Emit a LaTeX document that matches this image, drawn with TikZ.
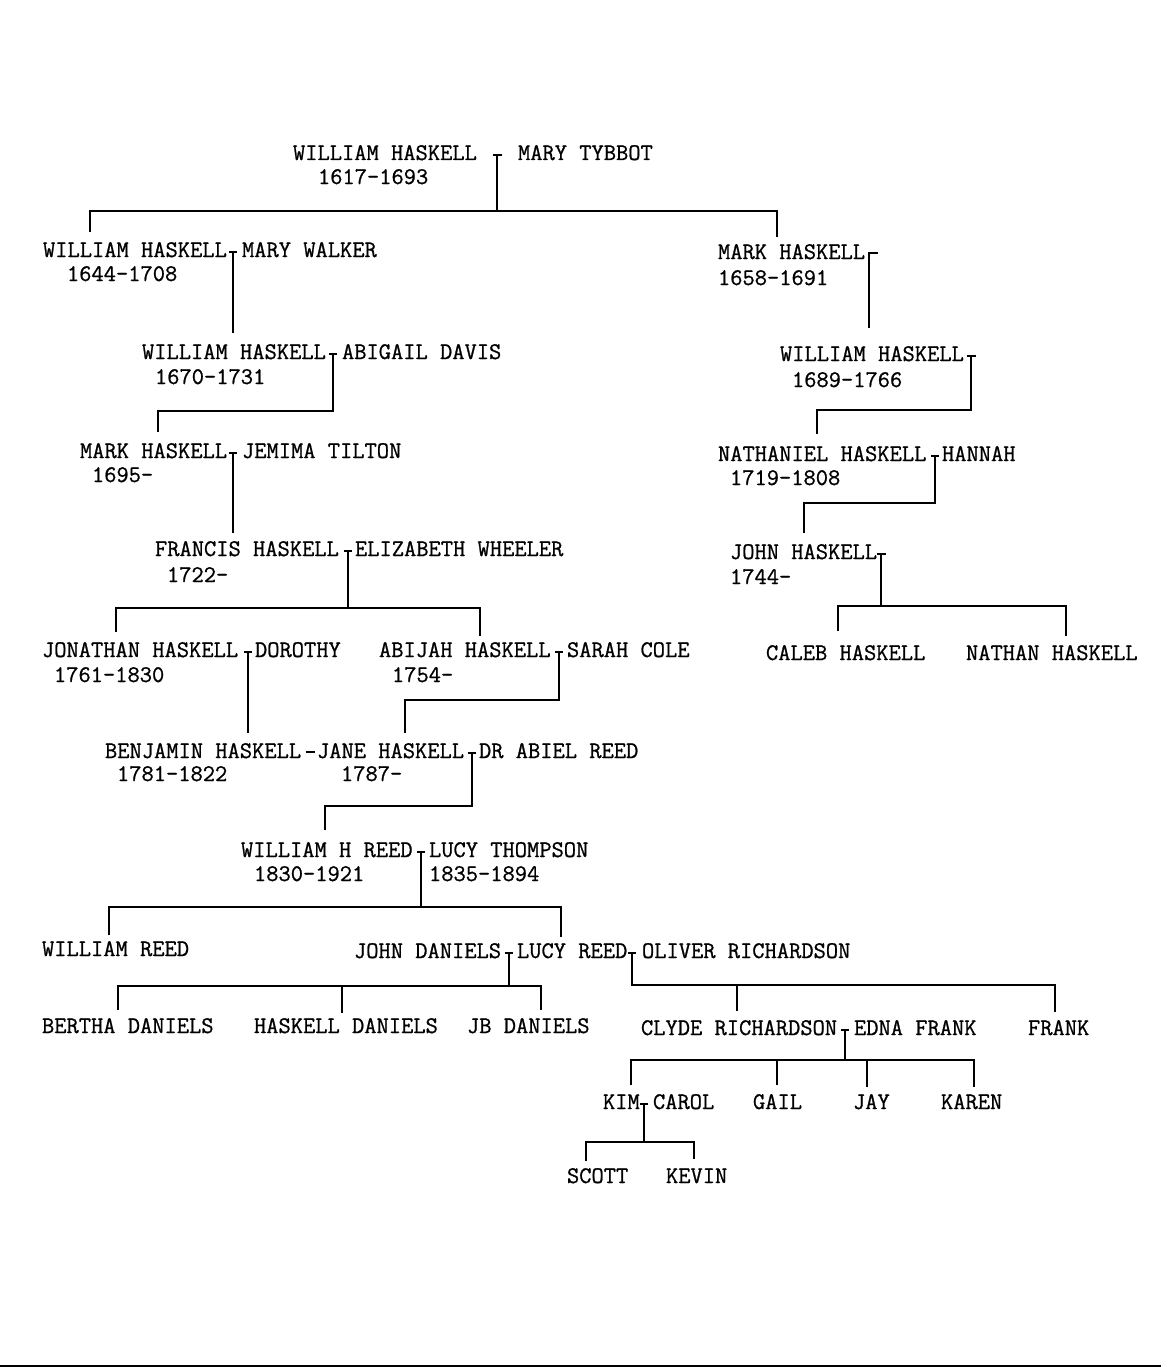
\documentclass[tikz,border=0pt]{standalone}
\usepackage{fontspec}
\newfontfamily\typewr{lmmono12-regular.otf}[FakeBold=0.9]
\begin{document}
\begin{tikzpicture}[scale=0.351459, line width=2pt, font=\fontsize{23.8}{28}\selectfont\typewr]
    \tikzstyle{every node}+=[inner sep=0pt, anchor=base west]
    \useasboundingbox (0,0) rectangle (116.1,-136.8);
    \node (whA) at (29.2,-16.0) {WILLIAM HASKELL};
    \node (mtA) at (51.7,-16.0) {MARY TYBBOT};
    \node (dwA) at (31.7,-18.4) {1617-1693};
    \node (whB) at (4.2,-25.7) {WILLIAM HASKELL};
    \node (mwB) at (24.1,-25.7) {MARY WALKER};
    \node (dwB) at (6.6,-28.1) {1644-1708};
    \node (mhB) at (71.7,-25.9) {MARK HASKELL};
    \node (dmB) at (71.7,-28.5) {1658-1691};
    \node (whC) at (14.1,-35.9) {WILLIAM HASKELL};
    \node (adC) at (34.1,-35.9) {ABIGAIL DAVIS};
    \node (dwC) at (15.4,-38.4) {1670-1731};
    \node (whR) at (77.9,-36.1) {WILLIAM HASKELL};
    \node (dwR) at (79.1,-38.7) {1689-1766};
    \node (mhD) at (7.9,-45.8) {MARK HASKELL};
    \node (jtD) at (24.1,-45.8) {JEMIMA TILTON};
    \node (dmD) at (9.1,-48.2) {1695-};
    \node (nhR) at (71.7,-46.1) {NATHANIEL HASKELL};
    \node (hnR) at (94.1,-46.1) {HANNAH};
    \node (dnR) at (72.9,-48.5) {1719-1808};
    \node (fhE) at (15.4,-55.6) {FRANCIS HASKELL};
    \node (ewE) at (35.4,-55.6) {ELIZABETH WHEELER};
    \node (dfE) at (16.6,-58.2) {1722-};
    \node (jhR) at (72.9,-55.9) {JOHN HASKELL};
    \node (djR) at (72.9,-58.4) {1744-};
    \node (jhF) at (4.1,-65.7) {JONATHAN HASKELL};
    \node (dtF) at (25.4,-65.7) {DOROTHY};
    \node (djF) at (5.3,-68.2) {1761-1830};
    \node (ahF) at (37.8,-65.7) {ABIJAH HASKELL};
    \node (scF) at (56.6,-65.7) {SARAH COLE};
    \node (daF) at (39.1,-68.2) {1754-};
    \node (chR) at (76.5,-66.0) {CALEB HASKELL};
    \node (nsR) at (96.5,-66.0) {NATHAN HASKELL};
    \node (bhG) at (10.4,-75.8) {BENJAMIN HASKELL};
    \node (jhG) at (31.6,-75.8) {JANE HASKELL};
    \node (arG) at (47.8,-75.8) {DR ABIEL REED};
    \node (dbG) at (11.6,-78.1) {1781-1822};
    \node (djG) at (34.0,-78.1) {1787-};
    \node (wrH) at (24.0,-85.7) {WILLIAM H REED};
    \node (ltH) at (42.8,-85.7) {LUCY THOMPSON};
    \node (dwH) at (25.3,-88.1) {1830-1921};
    \node (dlH) at (42.8,-88.1) {1835-1894};
    \node (wrI) at (4.1,-95.6) {WILLIAM REED};
    \node (jdI) at (35.3,-95.8) {JOHN DANIELS};
    \node (lrI) at (51.6,-95.8) {LUCY REED};
    \node (orI) at (64.1,-95.8) {OLIVER RICHARDSON};
    \node (bdJ) at (4.1,-103.3) {BERTHA DANIELS};
    \node (hdJ) at (25.3,-103.3) {HASKELL DANIELS};
    \node (jbJ) at (46.6,-103.3) {JB DANIELS};
    \node (crJ) at (64.0,-103.5) {CLYDE RICHARDSON};
    \node (efJ) at (85.3,-103.5) {EDNA FRANK};
    \node (frJ) at (102.7,-103.5) {FRANK};
    \node (kmK) at (60.2,-110.9) {KIM};
    \node (caK) at (65.2,-110.9) {CAROL};
    \node (gaK) at (75.2,-110.9) {GAIL};
    \node (jyK) at (85.2,-110.9) {JAY};
    \node (knK) at (94.0,-110.9) {KAREN};
    \node (stL) at (56.6,-118.3) {SCOTT};
    \node (kvL) at (66.5,-118.3) {KEVIN};
    \coordinate (jA) at (49.7,-15.5);
    \coordinate (bA) at (49.7,-21.1);
    \coordinate (cA1) at (9.0,-23.2);
    \coordinate (cA2) at (77.7,-23.7);
    \coordinate (jB) at (23.3,-25.2);
    \coordinate (cB) at (23.3,-33.3);
    \coordinate (jR1) at (86.9,-25.3);
    \coordinate (cR1) at (86.9,-32.8);
    \coordinate (jC) at (33.3,-35.4);
    \coordinate (bC) at (33.3,-41.1);
    \coordinate (cC) at (15.8,-43.2);
    \coordinate (jR2) at (97.1,-35.6);
    \coordinate (bR2) at (97.1,-41.0);
    \coordinate (cR2) at (81.7,-43.4);
    \coordinate (jD) at (23.3,-45.3);
    \coordinate (cD) at (23.3,-53.3);
    \coordinate (jR3) at (93.5,-45.6);
    \coordinate (bR3) at (93.5,-50.3);
    \coordinate (cR3) at (80.4,-53.3);
    \coordinate (jE) at (34.75,-55.1);
    \coordinate (bE) at (34.75,-60.8);
    \coordinate (cE1) at (11.6,-63.2);
    \coordinate (cE2) at (48.0,-63.6);
    \coordinate (jR4) at (88.1,-55.4);
    \coordinate (bR4) at (88.1,-60.6);
    \coordinate (cR4) at (83.8,-63.1);
    \coordinate (cR5) at (106.6,-63.6);
    \coordinate (jF1) at (24.75,-65.2);
    \coordinate (cF1) at (24.75,-73.3);
    \coordinate (jF2) at (55.9,-65.2);
    \coordinate (bF2) at (55.9,-70.0);
    \coordinate (cF2) at (40.5,-73.3);
    \coordinate (jG0) at (31.0,-75.2);
    \coordinate (jG) at (47.2,-75.3);
    \coordinate (bG) at (47.2,-80.6);
    \coordinate (cG) at (32.5,-83.0);
    \coordinate (jH) at (42.1,-85.2);
    \coordinate (bH) at (42.1,-90.7);
    \coordinate (cH1) at (10.9,-93.5);
    \coordinate (cH2) at (56.1,-93.7);
    \coordinate (jI1) at (50.9,-95.3);
    \coordinate (bI1) at (50.9,-98.6);
    \coordinate (cI1) at (11.8,-101.0);
    \coordinate (cI2) at (34.2,-101.3);
    \coordinate (cI3) at (54.1,-101.0);
    \coordinate (jI2) at (63.2,-95.3);
    \coordinate (bI2) at (63.2,-98.5);
    \coordinate (cI4) at (73.7,-101.1);
    \coordinate (cI5) at (105.5,-101.2);
    \coordinate (jJ) at (84.5,-103.0);
    \coordinate (bJ) at (84.5,-106.0);
    \coordinate (cJ1) at (63.1,-108.5);
    \coordinate (cJ2) at (77.7,-108.5);
    \coordinate (cJ3) at (86.7,-108.7);
    \coordinate (cJ4) at (97.4,-108.7);
    \coordinate (jK) at (64.4,-110.4);
    \coordinate (bK) at (64.4,-114.2);
    \coordinate (cK1) at (58.6,-116.1);
    \coordinate (cK2) at (69.4,-115.9);
    \draw [black] (jA) ++(-0.45,0) -- ++(0.9,0);
    \draw [black] (jA) -- (bA);
    \draw [black] (cA1) |- (bA) -| (cA2);
    \draw [black] (jB) ++(-0.4,0) -- ++(0.8,0);
    \draw [black] (jB) -- (cB);
    \draw [black] (jR1) ++(-0.1,0) -- ++(1.0,0);
    \draw [black] (jR1) -- (cR1);
    \draw [black] (jC) ++(-0.4,0) -- ++(0.8,0);
    \draw [black] (jC) -- (bC) -| (cC);
    \draw [black] (jR2) ++(-0.45,0) -- ++(0.9,0);
    \draw [black] (jR2) -- (bR2) -| (cR2);
    \draw [black] (jD) ++(-0.4,0) -- ++(0.8,0);
    \draw [black] (jD) -- (cD);
    \draw [black] (jR3) ++(-0.4,0) -- ++(0.8,0);
    \draw [black] (jR3) -- (bR3) -| (cR3);
    \draw [black] (jE) ++(-0.4,0) -- ++(0.8,0);
    \draw [black] (jE) -- (bE);
    \draw [black] (cE1) |- (bE) -| (cE2);
    \draw [black] (jR4) ++(-0.45,0) -- ++(0.9,0);
    \draw [black] (jR4) -- (bR4);
    \draw [black] (cR4) |- (bR4) -| (cR5);
    \draw [black] (jF1) ++(-0.4,0) -- ++(0.8,0);
    \draw [black] (jF1) -- (cF1);
    \draw [black] (jF2) ++(-0.4,0) -- ++(0.8,0);
    \draw [black] (jF2) -- (bF2) -| (cF2);
    \draw [black, line width=1.5pt] (jG0) ++(-0.45,0) -- ++(0.9,0);
    \draw [black] (jG) ++(-0.4,0) -- ++(0.8,0);
    \draw [black] (jG) -- (bG) -| (cG);
    \draw [black] (jH) ++(-0.4,0) -- ++(0.8,0);
    \draw [black] (jH) -- (bH);
    \draw [black] (cH1) |- (bH) -| (cH2);
    \draw [black] (jI1) ++(-0.4,0) -- ++(0.8,0);
    \draw [black] (jI1) -- (bI1);
    \draw [black] (cI1) |- (bI1) -| (cI3);
    \draw [black] (cI2) -- (cI2 |- bI1);
    \draw [black] (jI2) ++(-0.4,0) -- ++(0.8,0);
    \draw [black] (jI2) -- (bI2) -| (cI5);
    \draw [black] (cI4) -- (cI4 |- bI2);
    \draw [black] (jJ) ++(-0.4,0) -- ++(0.8,0);
    \draw [black] (jJ) -- (bJ);
    \draw [black] (cJ1) |- (bJ) -| (cJ4);
    \draw [black] (cJ2) -- (cJ2 |- bJ);
    \draw [black] (cJ3) -- (cJ3 |- bJ);
    \draw [black] (jK) ++(-0.4,0) -- ++(0.8,0);
    \draw [black] (jK) -- (bK);
    \draw [black] (cK1) |- (bK) -| (cK2);
    \draw [black] (0,-136.6) -- (116.1,-136.6);
\end{tikzpicture}
\end{document}
